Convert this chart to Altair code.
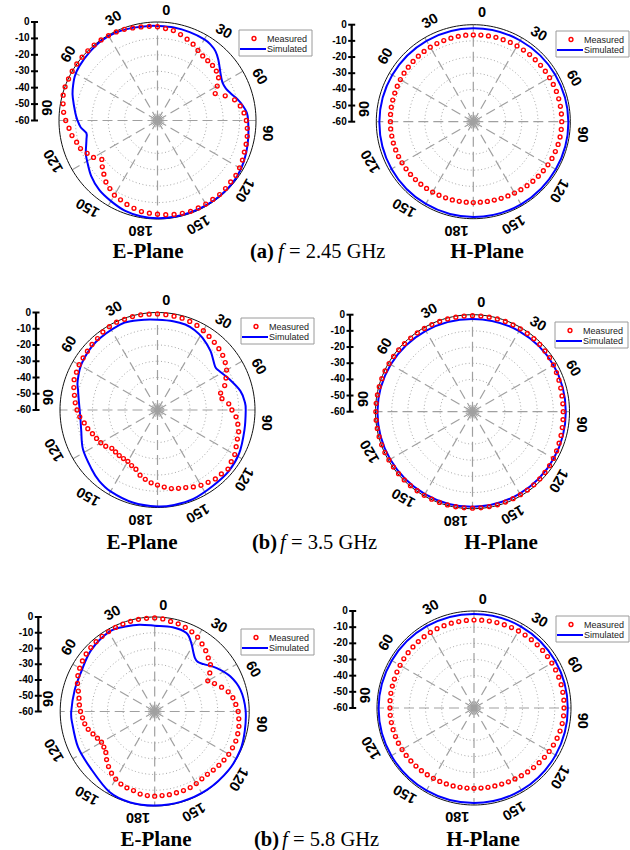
import altair as alt
import pandas as pd

# ---------------- data ----------------
ANGLES_5 = list(range(0, 360, 5))  # measured sample angles (deg)

# Measured patterns (dB), one value every 5 deg from 0 to 355
EA_MEAS = [-2.9, -3.8, -4.4, -5.8, -7.3, -8.7, -10.7, -12.0, -12.4, -12.6, -13.2, -14.6, -18.0, -21.2, -16.1, -11.4, -8.8, -7.1,
           -5.9, -5.1, -4.5, -4.1, -3.7, -2.9, -2.3, -1.7, -1.8, -1.4, -1.1, -1.3, -1.2, -1.2, -1.1, -1.5, -1.9, -2.4,
           -2.9, -3.3, -3.7, -4.6, -5.6, -6.7, -7.5, -9.4, -11.1, -13.8, -16.1, -18.6, -15.0, -12.7, -10.1, -9.0, -7.1, -5.9,
           -4.1, -2.6, -1.6, -0.5, -0.1, -0.2, 0.0, 0.0, 0.0, 0.0, 0.0, -0.1, -0.3, -0.5, -0.9, -1.6, -2.1, -2.4]
HA_MEAS = [-6.3, -6.2, -6.1, -6.0, -6.0, -5.9, -5.9, -5.9, -5.8, -5.8, -5.7, -5.6, -5.5, -5.4, -5.3, -5.3, -5.3, -5.3,
           -5.3, -5.4, -5.5, -5.7, -6.0, -6.3, -6.7, -7.1, -7.5, -7.9, -8.3, -8.7, -9.0, -9.3, -9.6, -9.8, -9.9, -10.0,
           -10.0, -10.0, -10.0, -9.9, -9.9, -9.8, -9.7, -9.6, -9.5, -9.4, -9.3, -9.2, -9.1, -9.0, -8.9, -8.8, -8.8, -8.7,
           -8.7, -8.6, -8.5, -8.4, -8.3, -8.1, -7.9, -7.7, -7.5, -7.3, -7.1, -6.9, -6.8, -6.7, -6.6, -6.5, -6.4, -6.3]
EB_MEAS = [-0.9, -1.1, -1.4, -1.5, -2.0, -2.6, -3.6, -4.7, -5.6, -6.6, -7.6, -9.1, -10.9, -13.5, -16.0, -19.8, -19.7, -16.0,
           -14.2, -11.5, -9.8, -8.3, -7.7, -6.6, -5.1, -4.6, -3.4, -4.4, -4.6, -5.7, -6.5, -7.8, -9.2, -10.1, -10.9, -12.4,
           -13.8, -15.0, -16.7, -18.5, -21.2, -22.3, -23.5, -23.5, -23.4, -23.5, -23.3, -21.1, -19.7, -18.6, -17.4, -15.6, -14.2, -12.0,
           -10.5, -9.2, -8.1, -6.7, -5.4, -5.0, -4.3, -4.1, -3.7, -3.0, -2.6, -1.4, -0.8, -0.4, -0.6, -0.5, -0.5, -0.8]
HB_MEAS = [-0.6, -0.6, -0.6, -0.6, -0.6, -0.7, -0.8, -0.9, -1.0, -1.2, -1.5, -1.8, -2.2, -2.7, -3.1, -3.5, -3.8, -3.9,
           -3.9, -3.8, -3.6, -3.3, -3.0, -2.6, -2.2, -1.8, -1.5, -1.2, -1.0, -0.8, -0.7, -0.6, -0.5, -0.4, -0.4, -0.3,
           -0.3, -0.3, -0.3, -0.3, -0.3, -0.3, -0.3, -0.3, -0.3, -0.3, -0.3, -0.3, -0.3, -0.2, -0.2, -0.2, -0.2, -0.2,
           -0.2, -0.2, -0.3, -0.3, -0.3, -0.3, -0.4, -0.4, -0.4, -0.5, -0.5, -0.5, -0.5, -0.5, -0.6, -0.6, -0.6, -0.6]
EC_MEAS = [-0.6, -1.0, -1.9, -2.4, -3.2, -4.2, -5.5, -7.6, -9.6, -11.9, -13.8, -17.3, -21.1, -18.1, -14.8, -11.7, -9.6, -8.3,
           -7.0, -6.4, -5.7, -5.4, -5.2, -5.5, -5.7, -6.3, -6.8, -7.4, -7.9, -7.8, -7.2, -6.7, -6.6, -6.6, -6.4, -6.4,
           -6.2, -6.4, -6.8, -8.0, -8.4, -9.2, -10.5, -12.2, -14.4, -16.8, -19.5, -20.6, -21.0, -19.9, -18.3, -16.3, -14.9, -14.0,
           -12.9, -12.0, -11.2, -9.8, -7.8, -6.2, -5.0, -4.0, -3.2, -2.6, -2.1, -1.7, -1.4, -1.1, -0.9, -0.7, -0.6, -0.6]
HC_MEAS = [-5.6, -5.5, -5.4, -5.3, -5.2, -5.1, -5.0, -4.9, -4.8, -4.7, -4.6, -4.5, -4.4, -4.3, -4.2, -4.2, -4.2, -4.2,
           -4.3, -4.4, -4.6, -4.9, -5.3, -5.8, -6.3, -6.8, -7.4, -7.9, -8.4, -8.9, -9.3, -9.6, -9.9, -10.1, -10.2, -10.3,
           -10.3, -10.3, -10.2, -10.1, -10.0, -9.9, -9.8, -9.6, -9.4, -9.2, -9.0, -8.8, -8.6, -8.4, -8.3, -8.2, -8.1, -8.0,
           -8.0, -7.9, -7.8, -7.7, -7.6, -7.4, -7.2, -7.0, -6.8, -6.6, -6.4, -6.2, -6.0, -5.9, -5.8, -5.7, -5.7, -5.6]

# Simulated patterns: angle (deg) and dB
EA_SIM_ANG = [0, 10, 20, 30, 35, 40, 45, 50, 55, 60, 65, 70, 75, 80, 85, 90, 100, 110, 120, 130, 140, 150, 160, 170, 180,
              190, 200, 210, 220, 230, 240, 245, 250, 255, 260, 265, 270, 275, 285, 290, 298, 305, 315, 325, 335, 345, 355]
EA_SIM_DB = [-2.4, -2.5, -2.7, -2.9, -3.6, -5.0, -7.6, -10.5, -12.8, -14.2, -14.0, -12.3, -9.6, -7.3, -5.4, -4.8, -3.8, -2.5,
             -1.2, -0.5, -0.4, -0.5, -0.5, -0.4, -0.4, -0.8, -1.6, -3.3, -4.8, -7.3, -10.5, -11.8, -13.7, -15.2, -16.0, -13.0,
             -11.3, -9.8, -6.6, -5.0, -2.9, -2.0, -1.3, -0.6, -0.8, -1.6, -2.2]
HA_SIM_ANG = [0, 30, 60, 90, 120, 150, 180, 210, 240, 270, 300, 330]
HA_SIM_DB = [-2.2, -2.0, -1.6, -1.2, -1.1, -1.0, -1.1, -1.3, -1.6, -1.9, -2.1, -2.2]
EB_SIM_ANG = [0, 10, 18, 25, 32, 42, 53, 58, 66, 77, 85, 90, 103, 118, 131, 144, 158, 170, 180, 195, 210, 220, 228, 242,
              255, 264, 270, 277, 284, 290, 302, 318, 336, 345, 352]
EB_SIM_DB = [-4.5, -4.5, -4.7, -5.8, -7.7, -11.2, -15.6, -15.0, -12.2, -7.7, -6.0, -5.7, -5.1, -3.1, -2.2, -2.2, -1.0, -0.7,
             -0.6, -1.1, -2.2, -3.6, -5.5, -8.1, -11.4, -12.3, -12.1, -11.2, -9.6, -7.7, -5.2, -3.5, -2.6, -3.2, -3.9]
HB_SIM_ANG = [0, 30, 60, 90, 120, 150, 180, 210, 240, 270, 300, 330]
HB_SIM_DB = [-2.6, -2.4, -2.2, -2.3, -2.0, -1.5, -1.2, -1.2, -1.2, -1.2, -1.6, -2.2]
EC_SIM_ANG = [0, 12, 22, 28, 33, 37, 41, 46, 55, 65, 76, 89, 102, 114, 128, 146, 164, 180, 195, 209, 229, 245, 262, 270,
              285, 298, 314, 331, 342, 350]
EC_SIM_DB = [-5.5, -5.3, -6.2, -10.6, -15.0, -17.5, -18.3, -16.7, -11.9, -7.1, -3.8, -2.3, -1.5, -0.4, -0.1, -0.2, -0.3,
             -0.3, -0.2, -1.3, -5.7, -6.3, -7.1, -7.0, -7.4, -7.0, -3.9, -1.7, -3.1, -4.1]
HC_SIM_ANG = [0, 30, 60, 90, 120, 150, 180, 210, 240, 270, 300, 330]
HC_SIM_DB = [-1.8, -1.8, -1.9, -2.0, -1.7, -1.3, -1.2, -1.1, -1.0, -1.0, -1.3, -1.6]

RING_LEVELS = [-10, -20, -30, -40]
SCALE_TICKS = [0, -10, -20, -30, -40, -50, -60]
ANGLE_TICKS = [0, 30, 60, 90, 120, 150, 180, 210, 240, 270, 300, 330]
ANGLE_LABELS = ["0", "30", "60", "90", "120", "150", "180", "150", "120", "90", "60", "30"]
LEGEND_LABELS = ["Measured", "Simulated"]
PLANE_TITLES = ["E-Plane", "H-Plane"]
CAPTION_TAGS = ["(a)", "(b)", "(b)"]
CAPTION_FREQS = ["2.45", "3.5", "5.8"]

MEAS = {"Ea": EA_MEAS, "Ha": HA_MEAS, "Eb": EB_MEAS, "Hb": HB_MEAS, "Ec": EC_MEAS, "Hc": HC_MEAS}
SIM = {"Ea": (EA_SIM_ANG, EA_SIM_DB), "Ha": (HA_SIM_ANG, HA_SIM_DB), "Eb": (EB_SIM_ANG, EB_SIM_DB),
       "Hb": (HB_SIM_ANG, HB_SIM_DB), "Ec": (EC_SIM_ANG, EC_SIM_DB), "Hc": (HC_SIM_ANG, HC_SIM_DB)}

# ---------------- layout (page pixels) ----------------
LAYOUT = {
    "Ea": dict(cx=157.5, cy=120.5, R=98.5, bx=34.5, lx=239.0, ly=30.0),
    "Ha": dict(cx=473.3, cy=121.7, R=97.0, bx=351.7, lx=556.0, ly=31.0),
    "Eb": dict(cx=157.5, cy=410.0, R=97.5, bx=36.0, lx=241.0, ly=318.0),
    "Hb": dict(cx=472.5, cy=411.7, R=97.0, bx=350.0, lx=555.0, ly=322.0),
    "Ec": dict(cx=154.7, cy=711.5, R=94.5, bx=38.3, lx=241.0, ly=629.0),
    "Hc": dict(cx=474.0, cy=708.0, R=97.0, bx=352.7, lx=556.0, ly=616.0),
}
ROW_Y = [252, 543, 840]
E_TITLE_X = [148, 142, 156]
H_TITLE_X = [487, 501, 483]
MID_X = [250, 252, 254]
W, H = 630, 850

XS = alt.Scale(domain=[0, W], nice=False, zero=False)
YS = alt.Scale(domain=[H, 0], nice=False, zero=False)


def X(f):
    return alt.X(f"{f}:Q", scale=XS, axis=None)


def Y(f):
    return alt.Y(f"{f}:Q", scale=YS, axis=None)


def frame(rows):
    return pd.DataFrame([{**r, **LAYOUT[r["panel"]]} for r in rows])


POLAR = dict(rr="datum.R * (datum.db + 60) / 60")
XEXP = "datum.cx + datum.rr * sin(datum.ang * PI / 180)"
YEXP = "datum.cy - datum.rr * cos(datum.ang * PI / 180)"

meas_rows = [dict(panel=p, ang=a, db=v) for p, vals in MEAS.items() for a, v in zip(ANGLES_5, vals)]
sim_rows = [dict(panel=p, ang=a, db=v, idx=i) for p, (angs, dbs) in SIM.items() for i, (a, v) in enumerate(zip(angs, dbs))]
ring_rows = [dict(panel=p, key=f"{p}{lv}", db=lv, ang=a, idx=a) for p in LAYOUT for lv in RING_LEVELS for a in range(0, 361, 3)]
outer_rows = [dict(panel=p, db=0, ang=a, idx=a) for p in LAYOUT for a in range(0, 361, 2)]
spoke_rows = [dict(panel=p, ang=a) for p in LAYOUT for a in ANGLE_TICKS]
star_rows = [dict(panel=p, ang=a) for p in LAYOUT for a in range(0, 360, 15)]
alab_rows = [dict(panel=p, ang=a, label=l) for p in LAYOUT for a, l in zip(ANGLE_TICKS, ANGLE_LABELS)]
tick_rows = [dict(panel=p, lvl=t, label=str(t)) for p in LAYOUT for t in SCALE_TICKS]
bar_rows = [dict(panel=p) for p in LAYOUT]
leg_rows = [dict(panel=p) for p in LAYOUT]
legtxt_rows = [dict(panel=p, label=l, k=i) for p in LAYOUT for i, l in enumerate(LEGEND_LABELS)]

layers = []

# dotted grid rings
layers.append(
    alt.Chart(frame(ring_rows)).mark_line(color="#a8a8a8", strokeWidth=1, strokeDash=[1, 2.5])
    .transform_calculate(**POLAR).transform_calculate(x=XEXP, y=YEXP)
    .encode(x=X("x"), y=Y("y"), detail="key:N", order="idx:Q")
)
# dashed spokes
layers.append(
    alt.Chart(frame(spoke_rows)).mark_rule(color="#a0a0a0", strokeWidth=1.2, strokeDash=[10, 5])
    .transform_calculate(x="datum.cx", y="datum.cy",
                         x2="datum.cx + datum.R * sin(datum.ang * PI / 180)",
                         y2="datum.cy - datum.R * cos(datum.ang * PI / 180)")
    .encode(x=X("x"), y=Y("y"), x2="x2:Q", y2="y2:Q")
)
# centre star
layers.append(
    alt.Chart(frame(star_rows)).mark_rule(color="#a0a0a0", strokeWidth=1)
    .transform_calculate(x="datum.cx", y="datum.cy",
                         x2="datum.cx + 7 * sin(datum.ang * PI / 180)",
                         y2="datum.cy - 7 * cos(datum.ang * PI / 180)")
    .encode(x=X("x"), y=Y("y"), x2="x2:Q", y2="y2:Q")
)
# outer black circle
layers.append(
    alt.Chart(frame(outer_rows)).mark_line(color="#111111", strokeWidth=1)
    .transform_calculate(**POLAR).transform_calculate(x=XEXP, y=YEXP)
    .encode(x=X("x"), y=Y("y"), detail="panel:N", order="idx:Q")
)
# simulated
layers.append(
    alt.Chart(frame(sim_rows)).mark_line(color="#0000ff", strokeWidth=2, interpolate="cardinal-closed")
    .transform_calculate(**POLAR).transform_calculate(x=XEXP, y=YEXP)
    .encode(x=X("x"), y=Y("y"), detail="panel:N", order="idx:Q")
)
# measured
layers.append(
    alt.Chart(frame(meas_rows)).mark_point(shape="circle", filled=False, color="#ff0000", size=15, strokeWidth=1.4, opacity=1)
    .transform_calculate(**POLAR).transform_calculate(x=XEXP, y=YEXP)
    .encode(x=X("x"), y=Y("y"))
)
# angle labels
layers.append(
    alt.Chart(frame(alab_rows)).mark_text(align="left", baseline="middle", font="Liberation Sans",
                                          fontWeight="bold", fontSize=14.5, color="#000000")
    .transform_calculate(rl="datum.R + 11.5", a2="(datum.ang + 2.5) * PI / 180")
    .transform_calculate(x="datum.cx + datum.rl * sin(datum.a2)", y="datum.cy - datum.rl * cos(datum.a2)")
    .encode(x=X("x"), y=Y("y"), text="label:N", angle=alt.Angle("ang:Q", scale=None))
)
# scale bar
layers.append(
    alt.Chart(frame(bar_rows)).mark_rule(color="#000000", strokeWidth=2.2)
    .transform_calculate(x="datum.bx", y="datum.cy - datum.R", y2="datum.cy")
    .encode(x=X("x"), y=Y("y"), y2="y2:Q")
)
layers.append(
    alt.Chart(frame(tick_rows)).mark_rule(color="#000000", strokeWidth=2)
    .transform_calculate(x="datum.bx - 3.5", x2="datum.bx + 3.5", y="datum.cy - datum.R * (datum.lvl + 60) / 60")
    .encode(x=X("x"), x2="x2:Q", y=Y("y"))
)
layers.append(
    alt.Chart(frame(tick_rows)).mark_text(align="right", baseline="middle", font="Liberation Sans",
                                          fontWeight="bold", fontSize=10, color="#000000")
    .transform_calculate(x="datum.bx - 5", y="datum.cy - datum.R * (datum.lvl + 60) / 60")
    .encode(x=X("x"), y=Y("y"), text="label:N")
)
# legends
layers.append(
    alt.Chart(frame(leg_rows)).mark_rect(fill="#ffffff", stroke="#9a9a9a", strokeWidth=1)
    .transform_calculate(x="datum.lx", x2="datum.lx + 73", y="datum.ly", y2="datum.ly + 26")
    .encode(x=X("x"), x2="x2:Q", y=Y("y"), y2="y2:Q")
)
layers.append(
    alt.Chart(frame(leg_rows)).mark_point(shape="circle", filled=False, color="#ff0000", size=15, strokeWidth=1.4, opacity=1)
    .transform_calculate(x="datum.lx + 15", y="datum.ly + 8.5")
    .encode(x=X("x"), y=Y("y"))
)
layers.append(
    alt.Chart(frame(leg_rows)).mark_rule(color="#0000ff", strokeWidth=2)
    .transform_calculate(x="datum.lx + 1", x2="datum.lx + 27", y="datum.ly + 19")
    .encode(x=X("x"), x2="x2:Q", y=Y("y"))
)
layers.append(
    alt.Chart(frame(legtxt_rows)).mark_text(align="left", baseline="middle", font="Liberation Sans",
                                            fontSize=9, color="#222222")
    .transform_calculate(x="datum.lx + 28", y="datum.ly + 8.5 + datum.k * 10.5")
    .encode(x=X("x"), y=Y("y"), text="label:N")
)

# captions
title_rows = []
for i, y in enumerate(ROW_Y):
    title_rows.append(dict(t=PLANE_TITLES[0], x=E_TITLE_X[i], y=y))
    title_rows.append(dict(t=PLANE_TITLES[1], x=H_TITLE_X[i], y=y))
layers.append(
    alt.Chart(pd.DataFrame(title_rows)).mark_text(align="center", baseline="middle", font="Liberation Serif",
                                                  fontWeight="bold", fontSize=21, color="#000000")
    .encode(x=X("x"), y=Y("y"), text="t:N")
)
tag_rows = [dict(t=CAPTION_TAGS[i], x=MID_X[i], y=y) for i, y in enumerate(ROW_Y)]
f_rows = [dict(t="f", x=MID_X[i] + 28, y=y) for i, y in enumerate(ROW_Y)]
eq_rows = [dict(t=f"= {CAPTION_FREQS[i]} GHz", x=MID_X[i] + 39, y=y) for i, y in enumerate(ROW_Y)]
layers.append(
    alt.Chart(pd.DataFrame(tag_rows)).mark_text(align="left", baseline="middle", font="Liberation Serif",
                                                fontWeight="bold", fontSize=20.5, color="#000000")
    .encode(x=X("x"), y=Y("y"), text="t:N")
)
layers.append(
    alt.Chart(pd.DataFrame(f_rows)).mark_text(align="left", baseline="middle", font="Liberation Serif",
                                              fontStyle="italic", fontSize=20.5, color="#000000")
    .encode(x=X("x"), y=Y("y"), text="t:N")
)
layers.append(
    alt.Chart(pd.DataFrame(eq_rows)).mark_text(align="left", baseline="middle", font="Liberation Serif",
                                               fontSize=20.5, color="#000000")
    .encode(x=X("x"), y=Y("y"), text="t:N")
)

chart = (
    alt.layer(*layers)
    .properties(width=W, height=H, padding=0, autosize=alt.AutoSizeParams(type="none"), background="#ffffff")
    .configure_view(stroke=None)
)

chart.save("out.html", embed_options={"renderer": "svg", "actions": False})
